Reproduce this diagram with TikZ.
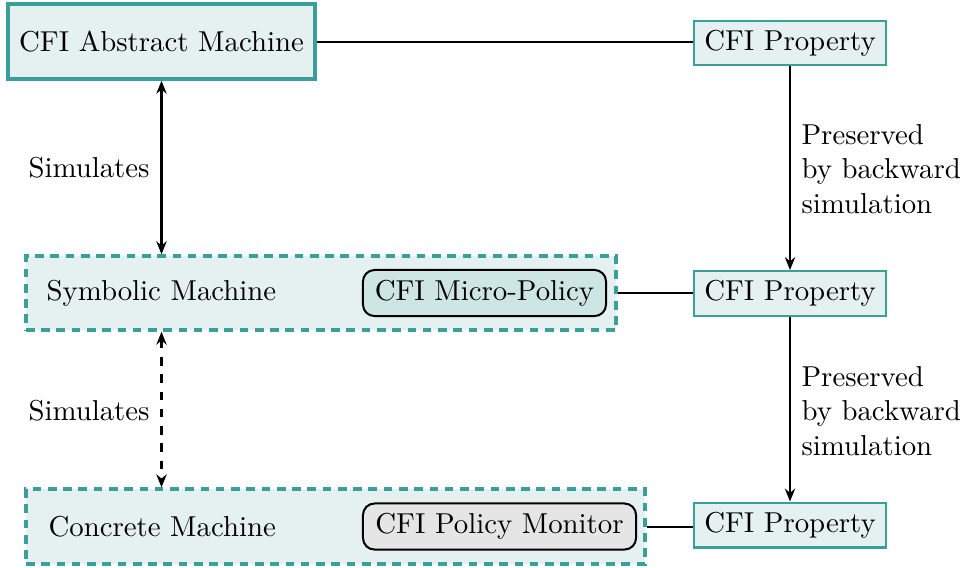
\documentclass[tikz,border=0pt]{standalone}
\usetikzlibrary{arrows.meta}
\definecolor{cfiteal}{RGB}{58,158,154}
\definecolor{cfifill}{RGB}{229,241,240}
\definecolor{cfipolicy}{RGB}{205,230,228}
\definecolor{cfigray}{RGB}{229,229,229}
\tikzset{
  prop/.style={draw=cfiteal, fill=cfifill, line width=0.7pt, minimum width=66.7pt, minimum height=15.6pt, inner sep=0pt},
  absbox/.style={draw=cfiteal, fill=cfifill, line width=1.25pt, minimum width=106.6pt, minimum height=26pt, inner sep=0pt},
  machine/.style={draw=cfiteal, fill=cfifill, line width=1.2pt, dash pattern=on 3pt off 2.3pt, inner sep=0pt},
  policy/.style={draw=black, line width=0.7pt, rounded corners=4pt, minimum height=16pt, inner sep=0pt},
  conn/.style={line width=0.7pt},
  arr/.style={line width=0.7pt, -{Stealth[length=4.5pt,width=3.6pt]}},
  dblarr/.style={line width=0.7pt, {Stealth[length=4.5pt,width=3.6pt]}-{Stealth[length=4.5pt,width=3.6pt]}},
  lbl/.style={inner sep=0pt, align=left}
}
\begin{document}
\begin{tikzpicture}[x=0.3472pt, y=-0.3472pt]
\useasboundingbox (0,0) rectangle (965,567);

% upper level
\node[absbox] (abs) at (161.5,41.5) {CFI Abstract Machine};
\node[prop] (p1) at (790,43) {CFI Property};

% middle level
\node[machine, minimum width=204.9pt, minimum height=25.7pt] (sym) at (321,293) {};
\node[lbl, anchor=west] (symtxt) at (46,293) {Symbolic Machine};
\node[policy, fill=cfipolicy, minimum width=84.4pt] (mp) at (484.5,293) {CFI Micro-Policy};
\node[prop] (p2) at (790,293.5) {CFI Property};

% lower level
\node[machine, minimum width=214.9pt, minimum height=26pt] (con) at (335.5,526.5) {};
\node[lbl, anchor=west] (contxt) at (48,527) {Concrete Machine};
\node[policy, fill=cfigray, minimum width=94.8pt] (pm) at (499.5,526.5) {CFI Policy Monitor};
\node[prop] (p3) at (790,525) {CFI Property};

% horizontal links to the properties
\draw[conn] (abs.east) -- (abs.east -| p1.west);
\draw[conn] (sym.east) -- (sym.east -| p2.west);
\draw[conn] (con.east) -- (con.east -| p3.west);

% preservation arrows
\draw[arr] (p1.south) -- (p2.north);
\draw[arr] (p2.south) -- (p3.north);
\node[lbl, anchor=west] (pres1) at (801,169) {Preserved\\by backward\\simulation};
\node[lbl, anchor=west] (pres2) at (801,411) {Preserved\\by backward\\simulation};

% simulation arrows
\draw[dblarr] (abs.south) -- (abs.south |- sym.north);
\draw[dblarr, dash pattern=on 3pt off 3pt] (abs.south |- sym.south) -- (abs.south |- con.north);
\node[lbl] (sim1) at (89,168) {Simulates};
\node[lbl] (sim2) at (89,411) {Simulates};
\end{tikzpicture}
\end{document}
